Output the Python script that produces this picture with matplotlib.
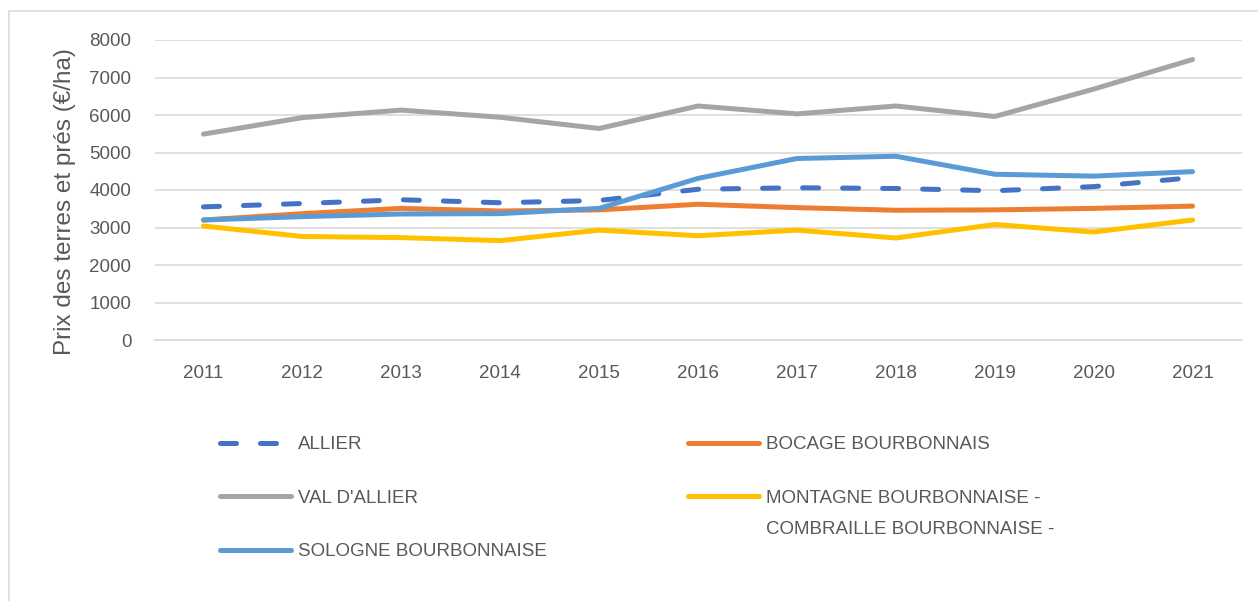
import numpy as np
import matplotlib
matplotlib.use("Agg")
import matplotlib.pyplot as plt
from matplotlib.patches import Rectangle

# data
years = [2011, 2012, 2013, 2014, 2015, 2016, 2017, 2018, 2019, 2020, 2021]
allier = [3550, 3640, 3740, 3660, 3720, 4020, 4060, 4040, 3980, 4090, 4330]
bocage = [3200, 3370, 3510, 3440, 3470, 3620, 3530, 3460, 3470, 3510, 3570]
val_allier = [5490, 5930, 6130, 5940, 5640, 6240, 6030, 6240, 5960, 6690, 7480]
montagne = [3040, 2760, 2730, 2650, 2930, 2780, 2930, 2720, 3080, 2880, 3200]
sologne = [3200, 3290, 3360, 3370, 3510, 4310, 4840, 4900, 4420, 4370, 4490]

y_ticks = [0, 1000, 2000, 3000, 4000, 5000, 6000, 7000, 8000]

plt.rcParams['font.family'] = ['Liberation Sans', 'DejaVu Sans']
txt_color = "#595959"

W, H = 1258, 601
fig = plt.figure(figsize=(W / 100, H / 100), dpi=100)
ax = fig.add_axes([155 / W, 1 - 340 / H, (1242 - 155) / W, 300 / H])

lw = 3.6
l_allier, = ax.plot(years, allier, color="#4472C4", lw=lw, linestyle=(0, (3.2, 4.8)),
                    dash_capstyle="round", solid_capstyle="round", zorder=3)
l_bocage, = ax.plot(years, bocage, color="#ED7D31", lw=lw, solid_capstyle="round", zorder=3)
l_val, = ax.plot(years, val_allier, color="#A5A5A5", lw=lw, solid_capstyle="round", zorder=3)
l_mont, = ax.plot(years, montagne, color="#FFC000", lw=lw, solid_capstyle="round", zorder=3)
l_sol, = ax.plot(years, sologne, color="#5B9BD5", lw=lw, solid_capstyle="round", zorder=3)

ax.set_xlim(2010.51, 2021.5)
ax.set_ylim(0, 8000)
ax.set_xticks(years)
ax.set_yticks(y_ticks)
ax.yaxis.grid(True, color="#d9d9d9", lw=1.2)
ax.set_axisbelow(True)
for s in ["top", "right", "left"]:
    ax.spines[s].set_visible(False)
ax.spines["bottom"].set_color("#d9d9d9")
ax.spines["bottom"].set_linewidth(1.2)
ax.tick_params(axis="both", length=0, labelsize=13.5, colors=txt_color)
ax.tick_params(axis="x", pad=18)
ax.tick_params(axis="y", pad=17)
ax.set_ylabel("Prix des terres et prés (€/ha)", fontsize=17.5, color=txt_color)
ax.yaxis.set_label_coords((76 - 155) / 1087, (340 - 202) / 300)

# chart border (left and top visible)
fig.patches.append(Rectangle((9 / W, -0.1), 1.2, 1 - 11 / H + 0.1, transform=fig.transFigure,
                             fill=False, edgecolor="#d9d9d9", lw=1.2))

leg_kw = dict(frameon=False, fontsize=13.5, labelcolor=txt_color, handlelength=3.8,
              handletextpad=0.35, labelspacing=1.95, borderpad=0, borderaxespad=0)
leg1 = fig.legend([l_allier, l_val, l_sol], ["ALLIER", "VAL D'ALLIER", "SOLOGNE BOURBONNAISE"],
                  loc="upper left", bbox_to_anchor=(220 / W, 1 - 436 / H), **leg_kw)
leg2 = fig.legend([l_bocage, l_mont],
                  ["BOCAGE BOURBONNAIS", "MONTAGNE BOURBONNAISE -"],
                  loc="upper left", bbox_to_anchor=(688 / W, 1 - 436 / H), **leg_kw)
# second line of the wrapped legend label
fig.text(766 / W, 1 - 530 / H, "COMBRAILLE BOURBONNAISE -", fontsize=13.5,
         color=txt_color, va="center", ha="left")

fig.savefig("out.png", dpi=100)
